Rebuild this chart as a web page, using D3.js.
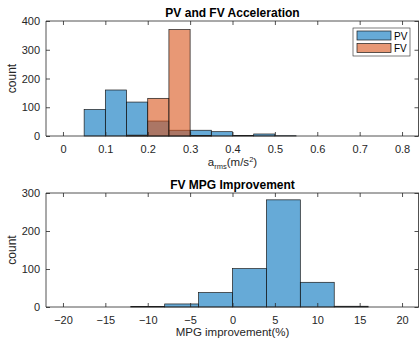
<!DOCTYPE html>
<html>
<head>
<meta charset="utf-8">
<script src="https://cdn.jsdelivr.net/npm/d3@7"></script>
<style>
  body { margin: 0; background: #fff; }
  svg { display: block; font-family: "Liberation Sans", Arial, sans-serif; }
</style>
</head>
<body>
<svg id="chart" width="419" height="339"></svg>
<script>
// acceleration histograms, bin width 0.05
const accEdges = [0.05, 0.10, 0.15, 0.20, 0.25, 0.30, 0.35, 0.40, 0.45, 0.50, 0.55];
const pvCounts = [92, 160, 118, 52, 20, 20, 15, 2, 7, 1];
const fvCounts = [0, 0, 3, 131, 370, 2, 0, 0, 0, 0];
const accTicks = [0, 0.1, 0.2, 0.3, 0.4, 0.5, 0.6, 0.7, 0.8];
const accYTicks = [0, 100, 200, 300, 400];

// MPG improvement histogram, bin width 4
const mpgEdges = [-12, -8, -4, 0, 4, 8, 12, 16];
const mpgCounts = [1, 8, 38, 101, 282, 65, 2];
const mpgTicks = [-20, -15, -10, -5, 0, 5, 10, 15, 20];
const mpgYTicks = [0, 100, 200, 300];

const blue = "rgb(0,114,189)", orange = "rgb(217,83,25)";
const axisCol = "#262626";
const svg = d3.select("#chart");

function panel(o) {
  const x = d3.scaleLinear().domain(o.xDomain).range([46, 419]);
  const y = d3.scaleLinear().domain(o.yDomain).range([o.bottom, o.top]);
  const g = svg.append("g");

  o.series.forEach(s => {
    g.append("g").selectAll("rect").data(s.counts.map((c, i) => ({ c, x0: o.edges[i], x1: o.edges[i + 1] })).filter(d => d.c > 0))
      .enter().append("rect")
      .attr("x", d => x(d.x0)).attr("width", d => x(d.x1) - x(d.x0))
      .attr("y", d => y(d.c)).attr("height", d => y(0) - y(d.c))
      .attr("fill", s.color).attr("fill-opacity", 0.6)
      .attr("stroke", "#1a1a1a").attr("stroke-width", 0.7);
  });

  // box with inward ticks on all sides
  const xb = g.append("g").attr("transform", `translate(0,${o.bottom})`)
    .call(d3.axisBottom(x).tickValues(o.xTicks).tickSize(-4).tickPadding(9).tickFormat(o.xFmt));
  const xt = g.append("g").attr("transform", `translate(0,${o.top})`)
    .call(d3.axisTop(x).tickValues(o.xTicks).tickSize(-4).tickFormat(""));
  const yl = g.append("g").attr("transform", "translate(46,0)")
    .call(d3.axisLeft(y).tickValues(o.yTicks).tickSize(-4).tickPadding(6));
  const yr = g.append("g").attr("transform", "translate(418.5,0)")
    .call(d3.axisRight(y).tickValues(o.yTicks).tickSize(-4).tickFormat(""));
  [xb, xt, yl, yr].forEach(a => {
    a.selectAll("path.domain").attr("stroke", axisCol).attr("stroke-width", 0.8);
    a.selectAll("line").attr("stroke", axisCol).attr("stroke-width", 0.8);
    a.selectAll("text").attr("fill", axisCol).attr("font-size", 11).attr("font-family", "Liberation Sans, Arial, sans-serif");
  });
  // remove outer ticks of domain paths
  [xb, xt].forEach(a => a.select("path.domain").attr("d", `M46,0H419`));
  [yl, yr].forEach(a => a.select("path.domain").attr("d", `M0,${o.top}V${o.bottom}`));

  g.append("text").attr("x", 232.5).attr("y", o.top - 4).attr("text-anchor", "middle")
    .attr("font-size", 12).attr("font-weight", "bold").attr("fill", "#000").text(o.title);
  g.append("text").attr("transform", `translate(16,${(o.top + o.bottom) / 2}) rotate(-90)`)
    .attr("text-anchor", "middle").attr("font-size", 12).attr("fill", axisCol).text("count");
  return { g, x, y };
}

const accPanel = panel({
  xDomain: [-0.04, 0.84], yDomain: [0, 400], top: 21, bottom: 136,
  edges: accEdges, xTicks: accTicks, yTicks: accYTicks, xFmt: d3.format("~g"),
  series: [{ counts: pvCounts, color: blue }, { counts: fvCounts, color: orange }],
  title: "PV and FV Acceleration"
});
const xl = accPanel.g.append("text").attr("x", 232.5).attr("y", 166).attr("text-anchor", "middle")
  .attr("font-size", 11.5).attr("fill", axisCol);
xl.append("tspan").text("a");
xl.append("tspan").attr("font-size", 7.5).attr("dy", 3).text("rms");
xl.append("tspan").attr("dy", -3).text("(m/s");
xl.append("tspan").attr("font-size", 7.5).attr("dy", -4).text("2");
xl.append("tspan").attr("dy", 4).text(")");

// legend
const leg = accPanel.g.append("g");
leg.append("rect").attr("x", 353).attr("y", 28).attr("width", 57).attr("height", 28)
  .attr("fill", "#fff").attr("stroke", "#262626").attr("stroke-width", 0.6);
[["PV", blue], ["FV", orange]].forEach(([name, col], i) => {
  leg.append("rect").attr("x", 357).attr("y", 31 + i * 12.5).attr("width", 34).attr("height", 9)
    .attr("fill", col).attr("fill-opacity", 0.6).attr("stroke", "#1a1a1a").attr("stroke-width", 0.7);
  leg.append("text").attr("x", 394).attr("y", 39.5 + i * 12.5).attr("font-size", 10)
    .attr("fill", "#000").text(name);
});

const mpgPanel = panel({
  xDomain: [-22, 22], yDomain: [0, 300], top: 193, bottom: 307,
  edges: mpgEdges, xTicks: mpgTicks, yTicks: mpgYTicks, xFmt: d3.format("d"),
  series: [{ counts: mpgCounts, color: blue }],
  title: "FV MPG Improvement"
});
mpgPanel.g.append("text").attr("x", 232.5).attr("y", 336).attr("text-anchor", "middle")
  .attr("font-size", 11.5).attr("fill", axisCol).text("MPG improvement(%)");
</script>
</body>
</html>
